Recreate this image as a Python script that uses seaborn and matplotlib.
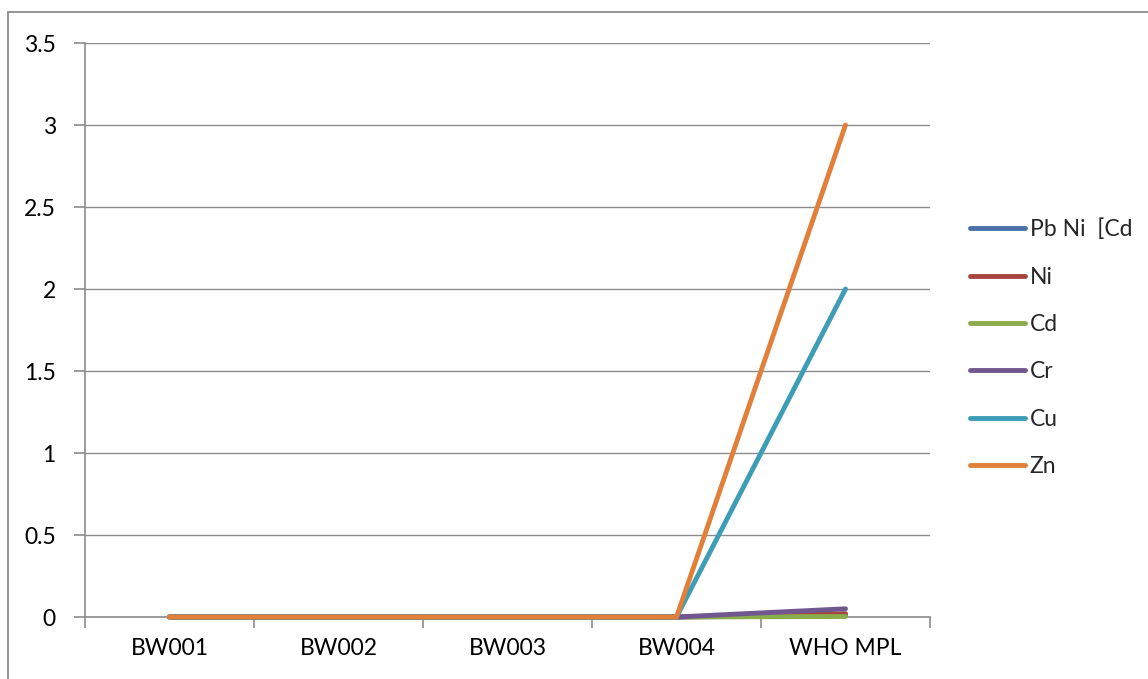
import numpy as np
import pandas as pd
import matplotlib
matplotlib.use("Agg")
import matplotlib.pyplot as plt
from matplotlib.patches import Rectangle
import seaborn as sns

categories = ["BW001", "BW002", "BW003", "BW004", "WHO MPL"]
series_names = ["Pb Ni  [Cd", "Ni", "Cd", "Cr", "Cu", "Zn"]
pb = [0, 0, 0, 0, 0.01]
ni = [0, 0, 0, 0, 0.02]
cd = [0, 0, 0, 0, 0.003]
cr = [0, 0, 0, 0, 0.05]
cu = [0, 0, 0, 0, 2]
zn = [0, 0, 0, 0, 3]
series_values = [pb, ni, cd, cr, cu, zn]
colors = ["#4A72A8", "#A84440", "#8AAC4A", "#71578F", "#3D9DB6", "#E0803A"]
y_ticks = [0, 0.5, 1, 1.5, 2, 2.5, 3, 3.5]
y_tick_labels = ["0", "0.5", "1", "1.5", "2", "2.5", "3", "3.5"]

rows = []
for name, vals in zip(series_names, series_values):
    for i, (c, v) in enumerate(zip(categories, vals)):
        rows.append({"series": name, "pos": i, "value": v})
df = pd.DataFrame(rows)

sns.set_theme(style="white")
plt.rcParams["font.family"] = ["Lato", "DejaVu Sans"]

fig = plt.figure(figsize=(11.48, 6.79), dpi=100)
ax = fig.add_axes([85 / 1148, 62 / 679, 845 / 1148, 574 / 679])

lw = 3.5
sns.lineplot(data=df, x="pos", y="value", hue="series", hue_order=series_names,
             palette=colors, linewidth=lw, ax=ax, legend=True,
             solid_capstyle="round", solid_joinstyle="round")
for ln in ax.get_lines():
    ln.set_zorder(4)
    ln.set_clip_on(False)

grid_col = "#8C8C8C"
fs = 16.5
ax.set_xlim(-0.5, len(categories) - 0.5)
ax.set_ylim(0, 3.5)
ax.set_yticks(y_ticks)
ax.set_yticklabels(y_tick_labels)
ax.yaxis.grid(True, color=grid_col, linewidth=1.0)
ax.set_axisbelow(True)
ax.set_xticks(np.arange(len(categories)))
ax.set_xticklabels(categories)
ax.set_xticks(np.arange(len(categories) + 1) - 0.5, minor=True)
ax.tick_params(axis="x", which="major", length=0, pad=15, labelsize=fs, labelcolor="black")
ax.tick_params(axis="x", which="minor", length=8, width=1.2, color=grid_col, direction="out")
ax.tick_params(axis="y", which="major", length=8, width=1.2, color=grid_col,
               direction="out", labelsize=fs, pad=13, labelcolor="black")
ax.xaxis.set_ticks_position("bottom")
ax.yaxis.set_ticks_position("left")
for s in ["top", "right"]:
    ax.spines[s].set_visible(False)
for s in ["left", "bottom"]:
    ax.spines[s].set_color(grid_col)
    ax.spines[s].set_linewidth(1.2)
ax.set_xlabel("")
ax.set_ylabel("")

handles, labels = ax.get_legend_handles_labels()
ax.get_legend().remove()
for h in handles:
    h.set_linewidth(lw)
    h.set_solid_capstyle("round")
leg = fig.legend(handles, labels, loc="center left",
                 bbox_to_anchor=(970 / 1148, 1 - 348 / 679),
                 frameon=False, fontsize=fs, handlelength=2.4,
                 handletextpad=0.2, labelspacing=1.15, borderpad=0,
                 borderaxespad=0)

fig.patches.append(Rectangle((8 / 1148, -0.05), 1.2, 1 - 12 / 679 + 0.05,
                             transform=fig.transFigure, fill=False,
                             edgecolor="#8C8C8C", linewidth=1.3, zorder=-1))

fig.savefig("out.png", dpi=100)
